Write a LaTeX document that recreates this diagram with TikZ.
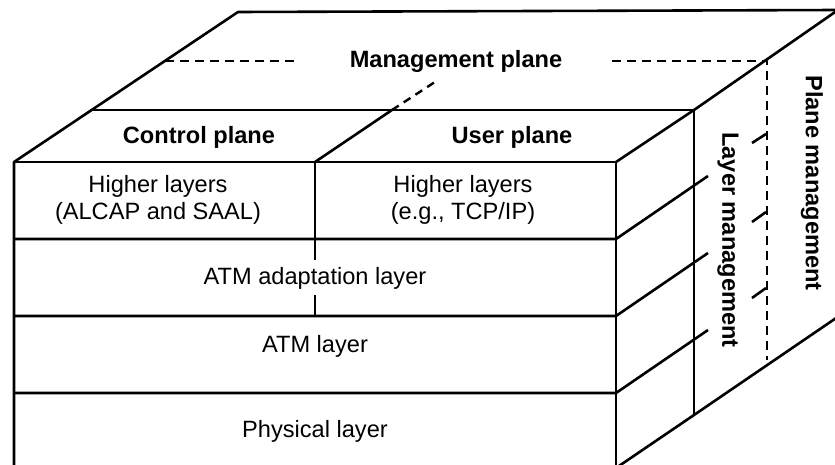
\documentclass[tikz,border=0pt]{standalone}
\usepackage{fontspec}
\setmainfont{Liberation Sans}
\begin{document}
\begin{tikzpicture}[x=0.5pt,y=-0.5pt,
  edge/.style={black, line width=1.3pt, line join=round},
  mgmtdash/.style={edge, line width=1.2pt, dash pattern=on 4.5pt off 3pt},
  lbl/.style={font=\fontsize{11.8}{13.6}\selectfont, align=center, inner sep=0pt},
  blbl/.style={lbl, font=\fontsize{11.8}{13.6}\selectfont\bfseries}]
\useasboundingbox (0,0) rectangle (835,465);
\clip (0,0) rectangle (835,465);

% corner points of the block
\coordinate (fTL) at (14,162);
\coordinate (fTR) at (616,162);
\coordinate (fBL) at (14,470);
\coordinate (fBR) at (616,468);
\coordinate (sTL) at (92,110);
\coordinate (sTR) at (694,110);
\coordinate (bTL) at (238,12);
\coordinate (bTR) at (838,10);
\coordinate (mBR) at (694,415);
\coordinate (xBR) at (842,314);

% outline of the block
\draw[edge] (fBL) -- (fTL) -- (bTL) -- (bTR);
\draw[edge] (fTL) -- (fTR) -- (fBR);
\draw[edge] (sTL) -- (sTR);
\draw[edge] (fTR) -- (sTR) -- (bTR);
\draw[edge] (sTR) -- (mBR);
\draw[edge] (fBR) -- (mBR) -- (xBR);

% control / user plane split
\coordinate (cuF) at (315,162);
\coordinate (cuB) at (392,110);
\coordinate (cuD) at (438,80);
\draw[edge] (cuF) -- (cuB);
\draw[mgmtdash, dash pattern=on 4pt off 3pt] (cuB) -- (cuD);
\draw[edge] (cuF) -- (315,239);
\draw[edge] (315,239) -- (315,260);
\draw[edge] (315,295) -- (315,316);

% layer boundaries on the front and side
\foreach \yy/\ty in {239/176, 316/253, 393/330} {
  \draw[edge] (14,\yy) -- (616,\yy) -- (708,\ty);
}

% plane management dashes
\coordinate (pmA) at (612,61);
\coordinate (pmC) at (767,61);
\coordinate (pmD) at (767,360);
\draw[mgmtdash] (165,61) -- (300,61);
\draw[mgmtdash] (pmA) -- (pmC) -- (pmD);

% layer ticks across the plane management line
\foreach \ya/\yb in {143/134, 222/212, 298/288} {
  \draw[edge] (752,\ya) -- (766,\yb);
}

% labels
\node[blbl] (mp) at (456,61) {Management plane};
\node[blbl] (cp) at (199,137) {Control plane};
\node[blbl] (up) at (512,137) {User plane};
\node[lbl] (hc) at (158,200) {Higher layers\\(ALCAP and SAAL)};
\node[lbl] (hu) at (463,200) {Higher layers\\(e.g., TCP/IP)};
\node[lbl] (aal) at (315,278) {ATM adaptation layer};
\node[lbl] (atm) at (315,346) {ATM layer};
\node[lbl] (phy) at (315,431) {Physical layer};
\node[blbl, rotate=-90] (lm) at (728,240) {Layer management};
\node[blbl, rotate=-90] (plm) at (812,183) {Plane management};
\end{tikzpicture}
\end{document}
